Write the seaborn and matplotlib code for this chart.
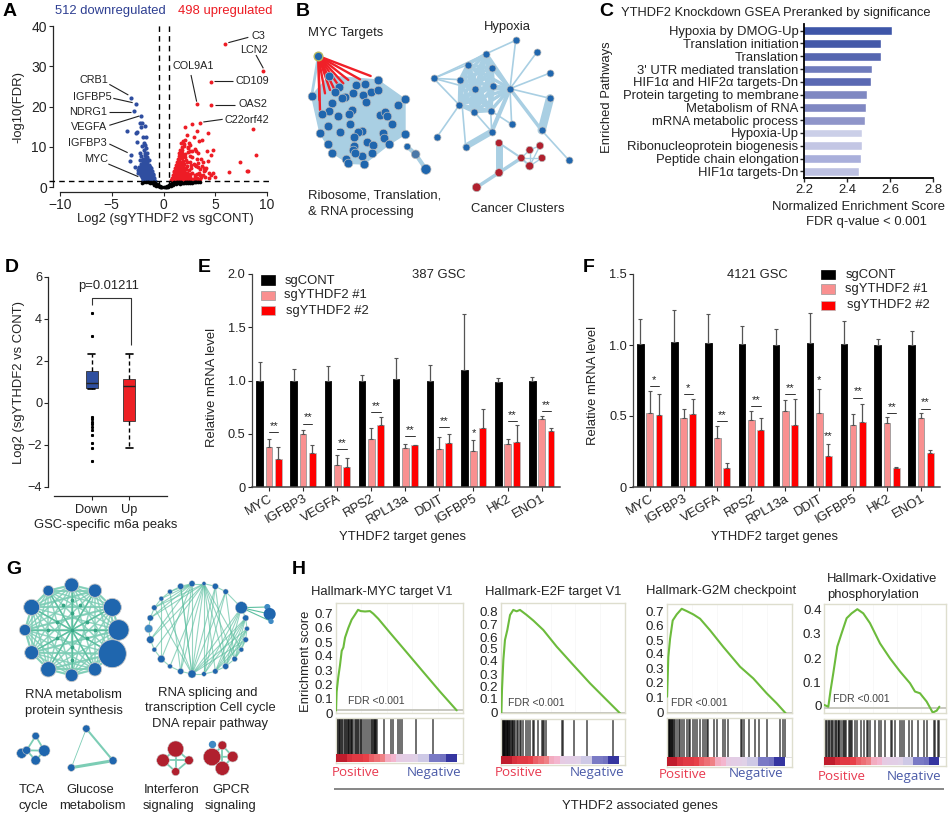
import itertools
import numpy as np
import pandas as pd
import matplotlib
matplotlib.use("Agg")
import matplotlib.pyplot as plt
from matplotlib.colors import LinearSegmentedColormap
import seaborn as sns

sns.set_theme(style="white")
plt.rcParams['font.family'] = ['Liberation Sans', 'DejaVu Sans']
plt.rcParams['axes.linewidth'] = 0.9
W, H = 951, 815
TXT = '#222222'

# ---------- Panel A data ----------
black_x = [-.1,0,.1,.2,-.2,-.3,.3,-.4,.4,-.5,.5,-.6,.6,-.7,.7,-.8,.8,-.9,.9,-1,1,-.45,.45,-.75,.75,-.95,.95,-1.1,1.1,-1.3,1.3,-1.5,1.5,-1.7,1.7,-1.9,1.9,-2.1,2.1,2.3,2.5,2.7,2.9,3.1,3.3,3.5,-.25,.25,-.55,.55,-.35,.35,1.2,1.4,1.6,1.8,2.0,2.2,2.4,2.6,2.8,3.0]
black_y = [.05,.05,.05,.1,.1,.2,.2,.35,.35,.5,.5,.65,.65,.8,.8,1,.95,1.15,1.1,1.25,1.2,.15,.1,.3,.3,.5,.5,.9,1,1.1,1.2,1.2,1.3,1.2,1.3,1.3,1.1,.9,1.25,1.3,1.2,1.3,1.25,1.3,1.2,1.35,.05,.05,.2,.2,.1,.1,.7,.9,.8,1,.9,1.1,1,1.1,1,1.2]
blue_x = [-3.13,-2.7,-2.87,-2.13,-3.5,-2.3,-2.05,-1.8,-2.6,-2.65,-2.15,-1.7,-1.95,-2.6,-1.9,-1.75,-2.05,-1.65,-3.13,-3.26,-2.77,-2.2,-1.9,-2.3,-1.8,-2.15,-1.7,-2.3,-1.95,-1.6,-2.45,-2.2,-2,-1.8,-1.6,-1.45,-2.35,-2.15,-1.95,-1.75,-1.55,-1.35,-2.3,-2.1,-1.9,-1.7,-1.5,-1.3,-1.15,-2.2,-2,-1.8,-1.6,-1.4,-1.2,-1.05,-2.1,-1.9,-1.7,-1.5,-1.3,-1.1,-.95,-2,-1.8,-1.6,-1.4,-1.2,-1,-.85,-1.9,-1.7,-1.5,-1.3,-1.85,-1.65,-1.45,-1.75,-1.55,-1.65,-1.95,-1.75,-1.55,
          -2.05,-1.85,-1.65,-1.45,-1.25,-2.25,-2.05,-1.85,-1.65,-1.45,-1.25,-1.05,-2.15,-1.95,-1.75,-1.55,-1.35,-1.15,-1,-1.9,-1.7,-1.5,-1.3,-1.1,-2,-1.8,-1.6,-1.4,-1.2,-2.4,-2.5]
blue_y = [22.2,20.7,18.8,17.7,14,15.9,16,15.2,13.6,13.4,14.8,12.5,12.3,11.3,11,10.4,10.2,9.8,8,6.5,5,2.9,9.3,8.5,8.4,7.7,7.3,6.8,6.9,7.5,3.5,5.8,5.8,5.9,6.1,5.5,4.6,4.8,4.9,5,5.1,4.9,3.8,4,4.1,4.2,4.3,4.1,3.9,3.1,3.2,3.3,3.4,3.5,3.3,3,2.4,2.5,2.6,2.7,2.7,2.5,2.2,1.8,1.9,2,2,1.9,1.9,1.6,1.55,1.6,1.6,1.5,6.5,6.6,6.6,7,7,7.4,6.2,8,8.4,
          5.3,5.4,5.5,5.3,4.6,4.3,4.4,4.5,4.6,4.7,3.6,3.3,3.5,3.6,3.7,3.8,3.7,2.9,2.6,2.9,2.9,3,3,2.9,2.1,2.2,2.3,2.3,2.2,4.9,4.3]
red_x = [5.97,9.65,4.55,3.26,4.58,3.55,2.8,2.1,8.6,4.26,3.2,2.3,2.9,3.7,1.85,2.1,2.5,3.45,2,2.6,1.8,2.4,8.93,7.35,6.3,8.1,8.2,5,4.75,4.2,4.55,3.9,4,4.4,4.8,3.5,3.2,3,2.8,3.6,4.3,3.3,2.9,2.6,3.3,3.7,4.1,2.3,2.6,3,3.5,3.9,1.8,2.1,2.4,2.8,3.1,.7,.9,1.1,1.3,1.5,1.7,1.9,2.1,2.3,2.5,2.7,2.9,3.1,3.3,3.5,.8,1,1.2,1.4,1.6,1.8,2,2.2,2.4,2.6,.9,1.1,1.3,1.5,1.7,1.9,2.1,2.3,1,1.2,1.4,1.6,1.8,2,2.2,1.1,1.3,1.5,1.7,1.9,2.1,1.2,1.4,1.6,1.8,2,1.3,1.5,1.7,1.9,1.4,1.6,1.8,1.45,1.65,1.5,1.7,1.55,1.75,2.7,3.1,
         3.2,3.6,4,4.4,4.6,3.4,3.8,3,2.6,2.8,2.5,2.3,2.7,2.2,1.9,2.1,1.6,1.4,1.2,1.05,2,1.7,2.4,3,3.2,3.8,2.6,3.3,1.25,1.45,1.65,1.85,2.05,2.25,1.15,1.35,1.55,1.75,1.95,2.15,1.35,1.55,1.75,1.95,1.5,1.7,1.9,.95,1.05,1.25,1.45,1.65,1.85]
red_y = [35.6,28.8,26.2,20.7,20.4,15.9,15.6,15,14.5,13.5,13.8,12.9,12.4,11.8,11.5,11.7,11,11.4,10.6,10.5,9.9,9.7,8.05,6.3,3.7,4.1,4,2.5,9.2,9,8,4.8,4.2,3.4,3.6,2.9,3.2,2.5,7.5,7,6.5,6,5.7,7.8,5,5.3,4.7,6.2,6.3,5.4,4.5,3.9,8.5,8.2,8.8,8.9,9,1.7,1.8,1.8,1.9,1.9,1.8,1.9,1.8,2,2,1.9,2.1,2,1.9,2.1,2.3,2.4,2.6,2.5,2.7,2.5,2.8,2.6,2.7,2.4,3.1,3.3,3.2,3.4,3.2,3.5,3.3,3.4,3.9,4.1,4.2,4,4.3,4.1,4.4,4.7,4.9,5,4.8,5.1,4.7,5.4,5.6,5.7,5.5,5.8,6.3,6.4,6.2,6.5,7,7.2,7.1,7.7,7.8,8.4,8.3,9.2,9.1,4.6,5.2,
         2.2,2.6,2.4,2.2,3,3.4,3.1,3,3.2,3.6,4.2,5.3,5.5,6.8,7.8,7.5,8.5,6,4.8,3.8,10.2,11,10,9.5,7,6.2,9,8.5,3.6,3.7,3.6,3.7,3.6,3.5,2.9,2.9,2.9,3,2.8,2.9,4.5,4.5,4.4,4.5,6,6,5.9,2,2.2,2.2,2.2,2.2,2.1]
gene_left = ['CRB1', 'IGFBP5', 'NDRG1', 'VEGFA', 'IGFBP3', 'MYC']
gene_right = ['C3', 'LCN2', 'COL9A1', 'CD109', 'OAS2', 'C22orf42']

# ---------- Panel C data ----------
pathways = ['Hypoxia by DMOG-Up', 'Translation initiation', 'Translation', "3' UTR mediated translation",
            'HIF1α and HIF2α targets-Dn', 'Protein targeting to membrane', 'Metabolism of RNA',
            'mRNA metabolic process', 'Hypoxia-Up', 'Ribonucleoprotein biogenesis',
            'Peptide chain elongation', 'HIF1α targets-Dn']
nes = [2.611, 2.556, 2.556, 2.514, 2.512, 2.492, 2.488, 2.483, 2.472, 2.469, 2.466, 2.457]
nes_colors = ['#3E56A8', '#4358A8', '#5566B0', '#6F7CBC', '#5A69B3', '#7F88C2', '#7F87C2', '#8F95C9',
              '#CBCFE8', '#C3C6E4', '#A9AFDB', '#BDC1E2']

# ---------- Panel D data ----------
down_stats = dict(whislo=.65, q1=.7, med=.95, q3=1.5, whishi=2.3,
                  fliers=[4.25, 3.2, -.65, -.75, -.9, -1.0, -1.15, -1.3, -1.55, -1.9, -2.15, -2.75])
up_stats = dict(whislo=-2.15, q1=-.87, med=.78, q3=1.12, whishi=2.3, fliers=[])

# ---------- Panels E, F data ----------
genes = ['MYC', 'IGFBP3', 'VEGFA', 'RPS2', 'RPL13a', 'DDIT', 'IGFBP5', 'HK2', 'ENO1']
groups = ['sgCONT', 'sgYTHDF2 #1', 'sgYTHDF2 #2']
e_black = [1.0, 1.0, 1.0, 1.0, 1.01, 1.0, 1.10, .99, 1.0]
e_pink = [.38, .495, .21, .45, .37, .36, .34, .40, .64]
e_red = [.26, .315, .19, .58, .39, .415, .555, .425, .53]
e_black_top = [1.175, 1.11, 1.135, 1.05, 1.21, 1.15, 1.625, 1.02, 1.03]
e_pink_top = [.45, .535, .30, .55, .40, .47, .44, .455, .665]
e_red_top = [.375, .39, .27, .66, .395, .50, .73, .58, .55]
e_sig_y = [.515, .595, .36, .705, .48, .565, None, .62, .71]
e_sig = ['**', '**', '**', '**', '**', '**', None, '**', '**']
f_black = [1.007, 1.02, 1.015, 1.005, 1.0, 1.015, 1.007, 1.0, 1.0]
f_pink = [.523, .486, .343, .472, .535, .52, .437, .45, .488]
f_red = [.507, .516, .134, .40, .437, .22, .455, .134, .237]
f_black_top = [1.183, 1.25, 1.22, 1.134, 1.11, 1.225, 1.167, 1.045, 1.098]
f_pink_top = [.674, .547, .43, .533, .61, .69, .512, .49, .52]
f_red_top = [.657, .62, .171, .488, .617, .305, .585, .143, .258]
f_sig_y = [.711, .653, .462, .57, .655, None, .63, .519, .552]
f_sig = ['*', '*', '**', '**', '**', None, '**', '**', '**']

# ---------- Panel B layout ----------
myc_x = [147,293,95,375,353,178,165,227,255,218,272,293,248,258,195,185,155,148,215,207,125,173,300,315,322,335,143,210,120,180,245,235,223,310,313,375,327,260,278,145,222,220,157,275,245,225,198,205,252]
myc_y = [228,240,288,298,316,260,275,255,253,278,275,270,285,305,290,295,310,332,330,343,343,347,345,335,347,373,378,373,400,397,393,397,410,400,413,403,433,425,435,433,438,450,458,458,468,458,478,490,492]
myc_hull_x = [95,147,293,375,375,327,252,205,157,120]
myc_hull_y = [288,228,240,298,403,433,492,490,458,400]
myc_red_x = [272,240,205,190,178,165,150,147,135,120,118]
myc_red_y = [228,238,240,250,260,272,270,235,280,330,300]
hyp_x = [707,619,771,563,637,810,461,540,690,584,640,810,538,582,632,695,785,635,471,557,866]
hyp_y = [121,161,156,194,205,219,235,239,266,268,258,295,315,335,332,373,391,395,411,440,480]
hyp_core = [1,3,4,7,8,9,10,12,13,14]
hyp_edges = [(0,1),(0,8),(2,8),(5,8),(11,8),(6,3),(6,7),(6,9),(6,12),(6,1),(8,15),(8,16),(8,17),(12,18),(13,17),(14,17),(7,19),(16,20),(14,15),(3,13)]
hyp_fat = [(11,16,6),(17,19,4.5),(8,17,3),(8,16,2.5),(8,14,2),(8,13,2)]
can_x = [657,749,780,724,786,749,657,590]
can_y = [429,450,437,474,474,498,518,562]
can_edges = [(0,6,5),(0,3,1.5),(6,3,2.5),(7,6,2.5),(3,5,1.5),(3,1,1),(5,1,1),(5,2,1),(5,4,1),(1,2,1),(3,4,1)]

# ---------- Panel G layout ----------
g1_x = [215,145,285,95,337,75,356,95,337,145,285,215]
g1_y = [105,122,122,172,172,240,240,308,311,358,358,376]
g1_r = [21,16,20,24,27,17,31,21,42,23,20,19]
g1_small_x = [215,215,215,170,260,170,260,145,285,215,215,190,240]
g1_small_y = [240,190,290,215,215,265,265,240,240,150,330,165,165]
g2_x = [612,576,542,510,484,463,451,446,451,463,484,510,542,576,612,646,677,704,724,737,741,737,724,677,646]
g2_y = [101,101,109,125,146,173,204,236,269,299,327,349,364,372,372,364,349,327,299,269,236,204,173,125,109]
g2_r = [6,9,9,7,7,8,9,12,11,7,11,7,9,12,7,8,9,8,7,8,7,9,18,8,9]
g2_edges = [(0,k) for k in (5,6,8,9,11,12,13,14,15,16,17,18)] + [(1,k) for k in (3,4,5,6,8,10,12,13)] + \
           [(13,k) for k in (22,21,20,19,24,23,2,5,4)] + [(14,k) for k in (24,23,22,21)] + \
           [(15,k) for k in (22,21,20,19)] + [(16,k) for k in (22,21,20)] + [(17,k) for k in (21,20,19)] + \
           [(i,(i+1)%25) for i in range(25)] + [(2,13),(3,12),(4,10),(24,16),(23,17)]
g2_sat_x = [802,809,813]
g2_sat_y = [171,192,214]
g2_sat_r = [7,16,6]
tca_x = [107,65,80,133,107]
tca_y = [558,610,601,602,631]
tca_r = [11,15,12,17,14]
glu_x = [259,339,214]
glu_y = [536,632,653]
glu_r = [11,12,11]
ifn_x = [527,489,567,527]
ifn_y = [597,631,631,665]
ifn_r = [24,19,13,12]
gpcr_x = [667,636,698,667]
gpcr_y = [586,621,620,655]
gpcr_r = [13,26,16,21]

# ---------- Panel H data ----------
h_titles = ['Hallmark-MYC target V1', 'Hallmark-E2F target V1', 'Hallmark-G2M checkpoint']
h1_rank = [0,.005,.018,.031,.045,.058,.071,.097,.123,.149,.173,.194,.228,.267,.293,.332,.424,.555,.686,.817,.948]
h1_es = [0,.134,.24,.323,.429,.453,.524,.594,.653,.689,.724,.715,.712,.715,.696,.66,.559,.418,.276,.135,0]
h2_rank = [.003,.008,.019,.032,.051,.073,.099,.126,.153,.207,.261,.341,.449,.583,.718,.852,.96]
h2_es = [0,.184,.42,.577,.656,.774,.814,.803,.814,.774,.73,.656,.525,.38,.236,.105,0]
h3_rank = [.003,.013,.027,.048,.08,.12,.16,.213,.267,.347,.453,.587,.693,.8,.88,.952]
h3_es = [.11,.385,.511,.637,.679,.718,.702,.679,.649,.569,.454,.317,.236,.133,.064,-.005]
h4_rank = [0,.033,.052,.074,.107,.143,.184,.225,.272,.321,.376,.459,.541,.624,.706,.747,.788,.843,.893,.926,.948]
h4_es = [.011,.004,.072,.141,.25,.305,.366,.386,.403,.386,.346,.263,.202,.148,.1,.066,.059,.025,-.02,-.012,.004]
h1_hits = [.005,.01,.015,.02,.03,.035,.045,.05,.06,.07,.08,.085,.095,.1,.105,.115,.12,.125,.135,.15,.155,.165,.17,.18,.195,.2,.21,.225,.24,.26,.275,.28,.29,.3,.305,.31,.315,.32,.38,.43,.45,.49,.5,.52,.63,.765]
h2_hits = [.002,.006,.01,.014,.018,.022,.026,.03,.035,.04,.045,.05,.055,.06,.065,.07,.075,.085,.09,.095,.105,.11,.125,.14,.15,.165,.18,.2,.215,.23,.255,.27,.3,.33,.34,.35,.36,.49,.5,.59,.69,.905]
h3_hits = [.002,.006,.01,.015,.02,.025,.03,.035,.04,.045,.05,.06,.07,.085,.095,.11,.125,.14,.16,.175,.19,.21,.225,.24,.27,.29,.31,.32,.33,.38,.4,.45,.47,.49,.595,.605,.62,.66,.71,.74,.8,.91,.93,.95]
h4_hits = [.01,.015,.03,.04,.05,.06,.065,.08,.095,.1,.11,.12,.125,.14,.15,.165,.17,.18,.2,.21,.22,.23,.25,.27,.3,.33,.35,.36,.38,.42,.45,.47,.5,.55,.56,.58,.62,.64,.66,.7,.72,.77,.82,.85,.9,.91,.935,.945]
h1_lab = [.70,.594,.488,.394,.288,.189,.083,-.019]
h2_lab = [.80,.703,.598,.512,.415,.307,.21,.113,.008]
h3_lab = [.70,.603,.50,.408,.305,.206,.103,.002]
h4_lab = [.40,.305,.202,.104,.008]
rank_metric = [10,10,8.5,8,8,7.5,6.5,6,5.5,3.5,3,1.2,1,.8,.6,-1.5,-1.5,-5,-5,-5.5,-9.5,-9.5]
rank_cmap = LinearSegmentedColormap.from_list('rk', ['#3535A0','#5A5AB5','#8080C8','#C8C4E4','#DCD4EA','#F5BCD8','#F08C90','#E84048','#C01C2C'])

# ---------- helpers ----------
fig = plt.figure(figsize=(W/100, H/100), dpi=100)

def axpx(l, t, r, b):
    return fig.add_axes([l/W, 1-b/H, (r-l)/W, (b-t)/H])

ov = axpx(0, 0, W, H)
ov.set_xlim(0, W); ov.set_ylim(H, 0); ov.axis('off'); ov.set_zorder(20); ov.patch.set_alpha(0)

def T(x, y, s, size=9.4, ha='center', color=TXT, **kw):
    ov.text(x, y, s, fontsize=size, ha=ha, va='center', color=color, **kw)

def L(xs, ys, color='#222222', lw=0.8, **kw):
    ov.plot(xs, ys, color=color, lw=lw, solid_capstyle='butt', **kw)

for s, x, y in [('A', 3, 11), ('B', 296, 11), ('C', 599, 11), ('D', 5, 267), ('E', 198, 267),
                ('F', 583, 268), ('G', 6, 570), ('H', 292, 570)]:
    T(x, y, s, size=14, ha='left', fontweight='bold', color='black')

def node_size(r):
    return (0.48*np.asarray(r, float))**2

# ---------- A ----------
axA = axpx(53, 26, 267, 192)
axA.set_xlim(-10.68, 10)
axA.set_ylim(-1.24, 40)
for xs, ys, c, s, z in [(black_x, black_y, 'black', 7, 4), (blue_x, blue_y, '#2F4EA0', 9, 3), (red_x, red_y, '#EE1C25', 8, 3)]:
    sns.scatterplot(x=xs, y=ys, color=c, s=s, linewidth=0, ax=axA, zorder=z)
axA.axhline(1.4, color='black', lw=1, ls=(0, (4, 3)), xmin=-.02, xmax=1.02, clip_on=False, zorder=5)
for v in (-.48, .52):
    axA.plot([v, v], [0, 40.8], color='black', lw=1, ls=(0, (4, 3)), clip_on=False, zorder=5)
sns.despine(ax=axA)
axA.spines['left'].set_bounds(0, 40); axA.spines['bottom'].set_bounds(-10, 10)
axA.set_xticks([-10, -5, 0, 5, 10]); axA.set_yticks([0, 10, 20, 30, 40])
axA.tick_params(axis='both', length=3, width=.8, labelsize=10, pad=1.5, left=True, bottom=True, labelcolor=TXT)
T(55, 11, '512 downregulated', ha='left', color='#2E3F92')
T(178, 11, '498 upregulated', ha='left', color='#ED1C24')
T(165, 219, 'Log2 (sgYTHDF2 vs sgCONT)')
T(18, 107, '-log10(FDR)', rotation=90)
left_pos = [(108, 80), (112, 97), (107, 112), (107, 127), (107, 143), (108, 159)]
for g, (x, y) in zip(gene_left, left_pos):
    T(x, y, g, size=7.8, ha='right')
right_pos = [(258, 36), (254, 50), (193, 66), (252, 81), (253, 104), (247, 120)]
for g, (x, y) in zip(gene_right, right_pos):
    T(x, y, g, size=7.8)
for (a, b, c, d) in [(328,253,385,285),(340,295,398,308),(328,336,393,336),(328,376,418,348),(328,432,383,458),(325,492,415,530),
                     (685,128,745,112),(768,165,790,205),(573,225,590,305),(642,243,698,243),(645,314,705,314),(610,366,668,358)]:
    L([a/3, c/3], [b/3, d/3])

# ---------- B ----------
axB = axpx(280, 0, 580, 230)
axB.set_xlim(0, 900); axB.set_ylim(690, 0); axB.axis('off')
EDGE = '#A9CFE3'
axB.fill(myc_hull_x, myc_hull_y, color=EDGE, zorder=1)
for tx, ty in zip(myc_red_x, myc_red_y):
    axB.plot([115, tx], [168, ty], color='#F02028', lw=1.7, zorder=1.5)
axB.plot([95, 115], [288, 168], color=EDGE, lw=2, zorder=1)
axB.plot([382, 407, 438], [440, 463, 508], color=EDGE, lw=3, zorder=1)
axB.scatter(myc_x, myc_y, s=node_size(13), color='#1F66AE', edgecolor='#BBBBBB', lw=.5, zorder=3)
axB.scatter([115], [168], s=node_size(13), color='#1F66AE', edgecolor='#B8B860', lw=1, zorder=3)
axB.scatter([382, 407, 438], [440, 463, 508], s=node_size(np.array([10, 13, 15])), color=['#1F66AE', '#4A78A8', '#1F66AE'], edgecolor='#BBBBBB', lw=.5, zorder=3)
for i, j in itertools.combinations(hyp_core, 2):
    axB.plot([hyp_x[i], hyp_x[j]], [hyp_y[i], hyp_y[j]], color=EDGE, lw=2.4, zorder=1)
for i, j in hyp_edges:
    axB.plot([hyp_x[i], hyp_x[j]], [hyp_y[i], hyp_y[j]], color=EDGE, lw=1.2, zorder=1)
for i, j, w in hyp_fat:
    axB.plot([hyp_x[i], hyp_x[j]], [hyp_y[i], hyp_y[j]], color=EDGE, lw=w, zorder=1)
axB.scatter(hyp_x, hyp_y, s=node_size(10.5), color='#1F66AE', edgecolor='#BBBBBB', lw=.5, zorder=3)
for i, j, w in can_edges:
    axB.plot([can_x[i], can_x[j]], [can_y[i], can_y[j]], color=EDGE, lw=w, zorder=1)
axB.scatter(can_x, can_y, s=node_size([11, 11, 11, 11, 11, 12, 12, 13]), color='#B0202E', edgecolor='#BBBBBB', lw=.5, zorder=3)
T(308, 33, 'MYC Targets', ha='left')
T(507, 27, 'Hypoxia')
T(308, 196, 'Ribosome, Translation,', ha='left')
T(308, 212, '& RNA processing', ha='left')
T(518, 209, 'Cancer Clusters')

# ---------- C ----------
axC = axpx(804, 24, 933, 177.7)
sns.barplot(x=nes, y=pathways, hue=pathways, palette=nes_colors, legend=False, width=.68, ax=axC, saturation=1)
axC.set_xlim(2.2, 2.8); axC.set_ylim(11.5, -.52)
sns.despine(ax=axC)
axC.spines['left'].set_linewidth(1.3); axC.spines['bottom'].set_linewidth(1.3)
axC.spines['left'].set_color('black'); axC.spines['bottom'].set_color('black')
axC.set_xticks([2.2, 2.4, 2.6, 2.8])
axC.tick_params(axis='y', length=3, width=1, labelsize=9.4, pad=1, left=True, labelcolor=TXT)
axC.tick_params(axis='x', length=3, width=1, labelsize=9.4, pad=1.5, bottom=True, labelcolor=TXT)
T(620.7, 12.7, 'YTHDF2 Knockdown GSEA Preranked by significance', size=9.3, ha='left')
T(606.7, 97, 'Enriched Pathways', rotation=90)
T(859, 206.7, 'Normalized Enrichment Score')
T(866.7, 221.7, 'FDR q-value < 0.001')

# ---------- D ----------
axD = axpx(54, 276.7, 167, 496)
axD.bxp([{**down_stats, 'label': 'Down'}, {**up_stats, 'label': 'Up'}], positions=[0, 1], widths=.31, patch_artist=True,
        boxprops=dict(lw=.6, edgecolor='#333333'), medianprops=dict(color='#222222', lw=1),
        whiskerprops=dict(ls=(0, (3, 2)), lw=1, color='black'), capprops=dict(lw=1.2, color='black'), capwidths=.18,
        flierprops=dict(marker='s', ms=1.2, mfc='black', mec='black'))
axD.patches[0].set_facecolor('#2F4F9F'); axD.patches[1].set_facecolor('#ED2024')
axD.set_xlim(-1, 2); axD.set_ylim(-4.43, 6)
sns.despine(ax=axD)
axD.spines['left'].set_position(('outward', 4)); axD.spines['left'].set_bounds(-4, 6)
axD.set_xticks([0, 1]); axD.set_xticklabels(['Down', 'Up'])
axD.set_yticks([-4, -2, 0, 2, 4, 6])
axD.tick_params(axis='both', length=3, width=.8, labelsize=9.2, pad=1.5, left=True, bottom=True, labelcolor=TXT)
axD.tick_params(axis='x', pad=3)
L([275/3, 275/3, 392/3, 392/3], [250+165/3, 250+145/3, 250+145/3, 250+285/3], color='#333333')
T(19, 383, 'Log2 (sgYTHDF2 vs CONT)', rotation=90)
T(109, 285.7, 'p=0.01211')
T(106, 525, 'GSC-specific m6a peaks')

# ---------- E, F ----------
def bars(box, xlim, ylim, yticks, ylabels, vals, tops, sig_y, sig):
    ax = axpx(*box)
    df = pd.DataFrame({'gene': genes*3, 'value': vals[0]+vals[1]+vals[2],
                       'group': sum([[g]*9 for g in groups], [])})
    sns.barplot(df, x='gene', y='value', hue='group', hue_order=groups, palette=['black', '#F99090', '#FF0000'],
                width=.82, gap=.28, legend=False, saturation=1, ax=ax, errorbar=None)
    for cont, top, ec in zip(ax.containers, tops, ['black', '#999999', '#BBBBBB']):
        xs, ys = [], []
        for p in cont:
            p.set_edgecolor(ec); p.set_linewidth(.6)
            xs.append(p.get_x()+p.get_width()/2); ys.append(p.get_height())
        ax.errorbar(xs, ys, yerr=[np.zeros(9), np.array(top)-np.array(ys)], fmt='none', ecolor='#555555',
                    elinewidth=.9, capsize=1.2, capthick=.8, zorder=1.5)
    off = ax.containers[1][0].get_x()+ax.containers[1][0].get_width()/2
    off2 = ax.containers[2][0].get_x()+ax.containers[2][0].get_width()/2
    for i, (y, s) in enumerate(zip(sig_y, sig)):
        if y is None:
            continue
        ax.plot([i+off, i+off2], [y, y], color='#333333', lw=.7)
        ax.text(i+(off+off2)/2, y+(ylim[1]*.005), s, ha='center', va='bottom', fontsize=8, color='#222222', linespacing=0)
    ax.set_xlim(*xlim); ax.set_ylim(*ylim)
    sns.despine(ax=ax)
    for sp in ('left', 'bottom'):
        ax.spines[sp].set_color('#444444')
    ax.spines['bottom'].set_linewidth(1.1)
    ax.set_yticks(yticks); ax.set_yticklabels(ylabels)
    ax.set_xlabel(''); ax.set_ylabel('')
    ax.tick_params(axis='y', length=3, width=.8, labelsize=9.2, pad=1.5, left=True, labelcolor=TXT)
    ax.tick_params(axis='x', length=3, width=.8, labelsize=9.4, pad=1, bottom=True, labelcolor=TXT)
    plt.setp(ax.get_xticklabels(), rotation=30, ha='right', rotation_mode='anchor')
    return ax, off, off2

axE, offE, offE2 = bars((251.7, 274, 560, 487), (-.51, 8.54), (0, 2), [0, .5, 1, 1.5, 2], ['0', '0.5', '1.0', '1.5', '2.0'],
                 [e_black, e_pink, e_red], [e_black_top, e_pink_top, e_red_top], e_sig_y, e_sig)
axE.text(6+offE, .46, '*', ha='center', va='bottom', fontsize=8, color='#222222')
axF, offF, offF2 = bars((633.3, 274, 940, 487), (-.48, 8.56), (0, 1.5), [0, .5, 1, 1.5], ['0', '0.5', '1.0', '1.5'],
                 [f_black, f_pink, f_red], [f_black_top, f_pink_top, f_red_top], f_sig_y, f_sig)
axF.text(5+offF, .72, '*', ha='center', va='bottom', fontsize=8, color='#222222')
axF.text(5+offF2, .325, '**', ha='center', va='bottom', fontsize=8, color='#222222')

def legend_box(x0, x1, rows, txt_x, txt_y):
    for (t, b), c, ec, x, y, s in zip(rows, ['black', '#F99090', '#FF0000'], ['black', '#999999', '#BBBBBB'], txt_x, txt_y, groups):
        ov.fill([x0, x1, x1, x0], [t, t, b, b], color=c, ec=ec, lw=.5)
        T(x, y, s, ha='left')

legend_box(260.7, 275, [(275.3, 284.7), (291, 300), (306.3, 315)], [285, 284, 286], [281, 295, 311])
legend_box(820.7, 835, [(270, 279.3), (284.3, 294.3), (300.7, 310)], [845.7, 845, 846.7], [275, 289, 305])
T(439, 275, '387 GSC'); T(757, 275, '4121 GSC')
T(402.7, 537, 'YTHDF2 target genes'); T(774.7, 536.7, 'YTHDF2 target genes')
T(212, 387, 'Relative mRNA level', rotation=90); T(593, 385, 'Relative mRNA level', rotation=90)

# ---------- G ----------
axG = axpx(0, 550, 300, 815)
axG.set_xlim(0, 900); axG.set_ylim(795, 0); axG.axis('off')
GE = '#7CCDB5'
for i, j in itertools.combinations(range(12), 2):
    axG.plot([g1_x[i], g1_x[j]], [g1_y[i], g1_y[j]], color=GE, lw=1.1, alpha=.85, zorder=1)
for i, j in itertools.combinations(range(12), 2):
    if (j-i) in (1, 2, 11):
        axG.plot([g1_x[i], g1_x[j]], [g1_y[i], g1_y[j]], color=GE, lw=1.6, alpha=.7, zorder=1)
for i in range(12):
    axG.plot([g1_x[i], 215], [g1_y[i], 240], color='#5CBFA0', lw=1, zorder=1)
axG.scatter(g1_small_x, g1_small_y, s=3, color='#35A585', zorder=2)
axG.scatter(g1_x, g1_y, s=node_size(g1_r), color='#1F66AE', edgecolor='#C8C8C8', lw=.6, zorder=3)
for i, j in g2_edges:
    axG.plot([g2_x[i], g2_x[j]], [g2_y[i], g2_y[j]], color='#5CBFA0', lw=.8, alpha=.65, zorder=1)
for k in range(3):
    axG.plot([724, g2_sat_x[k]], [173, g2_sat_y[k]], color='#5CBFA0', lw=.8, zorder=1)
axG.scatter(g2_x, g2_y, s=node_size(g2_r), color=['#3F8AC4' if i == 7 else '#1F66AE' for i in range(25)], edgecolor='#C8C8C8', lw=.3, zorder=3)
axG.scatter(g2_sat_x, g2_sat_y, s=node_size(g2_sat_r), color=['#3F8AC4', '#1F66AE', '#3F8AC4'], zorder=3)
for xs, ys, rs, col, e in [(tca_x, tca_y, tca_r, '#1F66AE', [(0,3),(0,2),(2,3),(2,4),(3,4)]),
                           (glu_x, glu_y, glu_r, '#1F66AE', [(0,1),(1,2),(0,2)]),
                           (ifn_x, ifn_y, ifn_r, '#B0202E', [(0,3),(1,2),(1,3),(2,3),(0,1),(0,2)]),
                           (gpcr_x, gpcr_y, gpcr_r, '#B0202E', [(0,1),(0,2),(0,3),(1,2),(1,3),(2,3)])]:
    for i, j in e:
        if xs is glu_x:
            w = {(0, 1): 1.5, (1, 2): 2.2, (0, 2): .6}[(i, j)]
        else:
            w = 1.3
        axG.plot([xs[i], xs[j]], [ys[i], ys[j]], color=GE, lw=w, zorder=1)
    axG.scatter(xs, ys, s=node_size(rs), color=col, edgecolor='#C8C8C8', lw=.4, zorder=3)
axG.scatter([636], [581], s=node_size(9), color='#3F8AC4', zorder=3)
for x, y, s in [(73.7,695,'RNA metabolism'),(74,710.7,'protein synthesis'),(208,692.7,'RNA splicing and'),
                (210,708,'transcription Cell cycle'),(210,723.7,'DNA repair pathway'),(32,790,'TCA'),(33,805.7,'cycle'),
                (90,790,'Glucose'),(92,805.7,'metabolism'),(172,790,'Interferon'),(169,805.7,'signaling'),
                (231,790,'GPCR'),(231,805.7,'signaling')]:
    T(x, y, s)

# ---------- H ----------
def gsea(box, hit_box, top, bot, rank, es, hits, lab, labels):
    ax = axpx(*box)
    sns.lineplot(x=rank, y=es, color='#6CBB3C', lw=1.5, sort=False, estimator=None, errorbar=None, ax=ax, zorder=4)
    ax.set_xlim(0, 1); ax.set_ylim(bot, top)
    ax.grid(True, color='#F6F6F6', lw=.5)
    ax.set_xticks([.2, .4, .6, .8]); ax.tick_params(axis='x', length=0, labelbottom=False)
    ax.axhline(0, color='#C8C8C0', lw=1.4, zorder=3)
    ax.set_yticks(lab); ax.set_yticklabels(labels)
    ax.tick_params(axis='y', length=0, labelsize=9.6, pad=2, labelcolor=TXT)
    ax.grid(False, axis='y')
    for s in ax.spines.values():
        s.set_color('#DEDECE'); s.set_linewidth(1)
    a2 = axpx(*hit_box)
    a2.set_xlim(0, 1); a2.set_ylim(1, 0)
    a2.vlines(hits, 0, .8, color='black', lw=1.1, alpha=.72)
    a2.set_xticks([]); a2.set_yticks([])
    a2.axhline(.8, color='#DDDDDD', lw=.6)
    for s in a2.spines.values():
        s.set_color('#DEDECE'); s.set_linewidth(1)
    l, t, r, b = hit_box
    h = b-t
    a3 = axpx(l, t+.81*h, l+(r-l)*.948, b-.02*h)
    sns.heatmap(np.array([rank_metric]), cmap=rank_cmap, cbar=False, ax=a3, xticklabels=False, yticklabels=False)

gsea((336, 603.3, 463.3, 713), (336, 718, 463.3, 763), .771, -.007, h1_rank, h1_es, h1_hits, h1_lab,
     ['0.7', '0.6', '0.5', '0.4', '0.3', '0.2', '0.1', '0'])
gsea((501, 603.3, 625, 713.3), (501, 719, 625, 765), .866, 0, h2_rank, h2_es, h2_hits, h2_lab,
     ['0.8', '0.7', '0.6', '0.5', '0.4', '0.3', '0.2', '0.1', '0'])
gsea((666.7, 604, 791.7, 713.3), (666.7, 718, 791.7, 766.7), .751, -.005, h3_rank, h3_es, h3_hits, h3_lab,
     ['0.7', '0.6', '0.5', '0.4', '0.3', '0.2', '0.1', '0'])
gsea((824.3, 604.3, 945.7, 713.3), (824.3, 719, 945.7, 766), .423, -.023, h4_rank, h4_es, h4_hits, h4_lab,
     ['0.4', '0.3', '0.2', '0.1', '0'])
T(381.7, 591.7, h_titles[0]); T(552.7, 591.7, h_titles[1]); T(720.7, 590.7, h_titles[2])
T(826.7, 579, 'Hallmark-Oxidative', ha='left'); T(826.7, 595, 'phosphorylation', ha='left')
T(306, 661, 'Enrichment score', rotation=90)
for x, y in [(376, 701), (536.7, 703), (699, 703), (861, 699)]:
    T(x, y, 'FDR <0.001', size=7.6, color='#444444')
for xp, xn, y in [(355.7, 434, 772.7), (519, 597, 772.7), (683, 756, 774), (841.7, 914.3, 776.7)]:
    T(xp, y, 'Positive', size=9.6, color='#E83A50', family='Open Sans')
    T(xn, y, 'Negative', size=9.6, color='#4A5AA8', family='Open Sans')
L([334, 944], [789, 789], color='#666666', lw=1.1)
T(640, 806, 'YTHDF2 associated genes')

fig.savefig('out.png', dpi=100)
